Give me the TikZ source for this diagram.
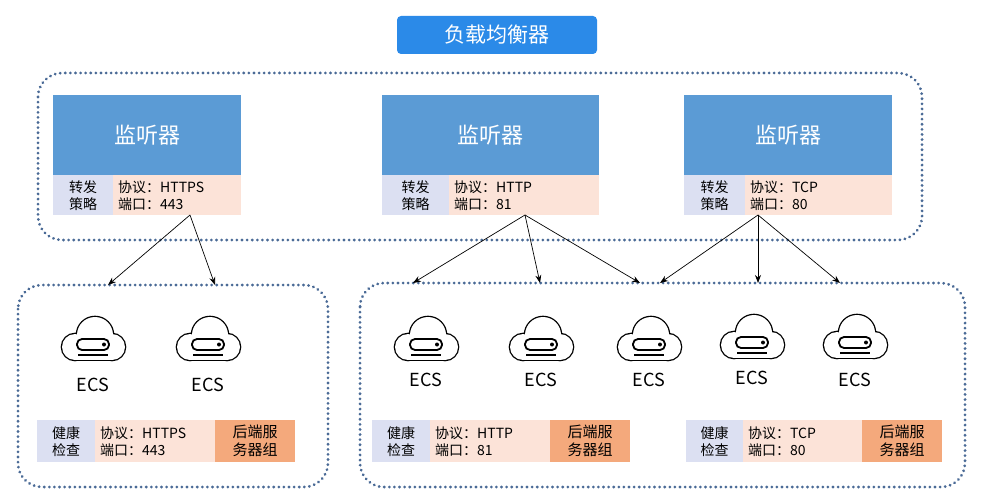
\documentclass[tikz,border=0pt]{standalone}
\usepackage{fontspec}
\setmainfont{Noto Sans CJK SC}
\usepackage{tikz}
\usetikzlibrary{positioning, arrows, shapes}
\definecolor{lbblue}{HTML}{2B8AE8}
\definecolor{lsblue}{HTML}{5B9BD5}
\definecolor{lav}{HTML}{DCE0F2}
\definecolor{peach}{HTML}{FCE3D8}
\definecolor{orng}{HTML}{F4A97C}
\definecolor{dotc}{HTML}{4A6A96}
\tikzstyle{group} = [draw=dotc, line width=3pt, dash pattern=on 0.1pt off 5pt, line cap=round, rounded corners=24pt]
\tikzstyle{listener} = [rectangle, anchor=north west, fill=lsblue, text=white, font=\fontsize{22}{26}\selectfont, inner sep=0pt]
\tikzstyle{cell} = [rectangle, anchor=north west, inner sep=0pt, font=\fontsize{14}{17}\selectfont, align=center]
\tikzstyle{arrow} = [-{Stealth[length=8pt,width=6pt]}, line width=0.7pt]
\tikzstyle{ecslabel} = [font=\fontsize{18}{20}\selectfont]
\usetikzlibrary{arrows.meta}
\tikzset{ecs/.pic={
  \foreach \p in {1,2}{
    \ifnum\p=1 \tikzset{ecsp/.style={draw=black, line width=2.6pt}}\else\tikzset{ecsp/.style={fill=white}}\fi
    \path[ecsp] (-18,5) circle (13) (2,-7) circle (18) (19,5) circle (13);
    \path[ecsp] (-18,-2) rectangle (19,18);
  }
  \draw[line width=1.8pt, rounded corners=5pt] (-16,-3) rectangle (16,8);
  \fill (11,2.5) circle (2);
  \draw[line width=1.8pt] (-15,13) -- (15,13);
}}
\begin{document}
\begin{tikzpicture}[x=1pt,y=-1pt]
  \useasboundingbox (0,0) rectangle (984,497);
  \node (lb) [fill=lbblue, text=white, rounded corners=4pt, minimum width=200pt, minimum height=38pt, font=\fontsize{21}{24}\selectfont] at (497,35) {负载均衡器};

  % listeners
  \draw[group] (38,73) rectangle (922,240);
  \foreach \n/\x/\w/\lw/\proto/\port in {l1/53/188/60/HTTPS/443, l2/382/217/67/HTTP/81, l3/684/208/61/TCP/80}{
    \node (\n) [listener, minimum width=\w pt, minimum height=80pt] at (\x,95) {监听器};
    \node (\n p) [cell, fill=lav, minimum width=\lw pt, minimum height=40pt] at (\x,175) {转发\\策略};
    \node (\n q) [cell, fill=peach, minimum width=\w pt-\lw pt, minimum height=40pt, align=left, text width=\w pt-\lw pt-10pt] at (\x+\lw,175) {协议：\proto\\端口：\port};
  }

  % backend groups
  \draw[group] (18,285) rectangle (328,487);
  \draw[group] (360,283) rectangle (965,487);
  \foreach \n/\x/\y/\ly in {e1/93/342/385, e2/208/342/385, e3/426/342/380, e4/541/342/380, e5/649/342/380, e6/752/340/378, e7/855/340/380}{
    \pic at (\x,\y) {ecs};
    \coordinate (\n) at (\x,\y-30);
    \node (\n l) [ecslabel] at (\x,\ly) {ECS};
  }
  \foreach \n/\x/\a/\b/\proto/\port in {h1/37/58/120/HTTPS/443, h2/372/58/120/HTTP/81, h3/686/57/119/TCP/80}{
    \node (\n a) [cell, fill=lav, minimum width=\a pt, minimum height=42pt] at (\x,420) {健康\\检查};
    \node (\n b) [cell, fill=peach, minimum width=\b pt, minimum height=42pt, align=left, text width=\b pt-10pt] at (\x+\a,420) {协议：\proto\\端口：\port};
    \node (\n c) [cell, fill=orng, minimum width=80pt, minimum height=42pt, font=\fontsize{15}{18}\selectfont] at (\x+\a+\b,420) {后端服\\务器组};
  }

  \coordinate (t1) at (108,285);
  \coordinate (t2) at (215,285);
  \coordinate (t3) at (413,283);
  \coordinate (t4) at (540,283);
  \coordinate (t5) at (640,283);
  \coordinate (t6) at (660,283);
  \coordinate (t7) at (758,283);
  \coordinate (t8) at (840,283);
  \coordinate (s1) at (190,215);
  \coordinate (s2) at (525,215);
  \coordinate (s3) at (758,215);
  \draw [arrow] (s1) -- (t1);
  \draw [arrow] (s1) -- (t2);
  \draw [arrow] (s2) -- (t3);
  \draw [arrow] (s2) -- (t4);
  \draw [arrow] (s2) -- (t5);
  \draw [arrow] (s3) -- (t6);
  \draw [arrow] (s3) -- (t7);
  \draw [arrow] (s3) -- (t8);
\end{tikzpicture}
\end{document}
